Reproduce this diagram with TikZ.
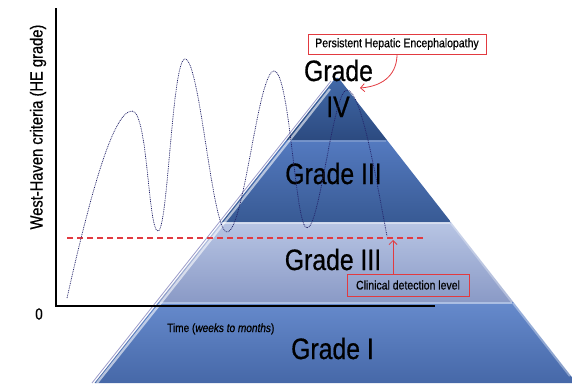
\documentclass[tikz,border=0pt]{standalone}
\usepackage{fontspec}
\setmainfont{Liberation Sans}[FakeStretch=0.84, FakeBold=0.6]
\usetikzlibrary{arrows.meta}
\definecolor{redc}{HTML}{E23A40}
\definecolor{curvec}{HTML}{24246A}
\begin{document}
\begin{tikzpicture}[x=1pt,y=-1pt,
  grade/.style={font=\fontsize{29.5}{30}\selectfont, inner sep=0pt, anchor=base},
  redbox/.style={draw=redc, line width=0.8pt, inner sep=0pt, font=\fontsize{12.5}{13}\selectfont},
  redarrow/.style={draw=redc, line width=0.8pt, -{Straight Barb[length=4pt,width=8pt]}},
  hecurve/.style={draw=curvec, line width=0.75pt, dash pattern=on 0.9pt off 0.9pt},
  axis/.style={line width=1.8pt, black},
  bevel/.style={white, opacity=0.6, line width=2.2pt}]
\useasboundingbox (0,0) rectangle (572,383);
\begin{scope}
\clip (0,0) rectangle (572,383);
% Grade I layer
\shade[top color={rgb,255:red,102;green,138;blue,204}, bottom color={rgb,255:red,70;green,104;blue,168}]
  (94.5,383) -- (158.5,302) -- (513.3,302) -- (576.5,383) -- cycle;
% Grade III light layer
\shade[top color={rgb,255:red,184;green,197;blue,228}, bottom color={rgb,255:red,138;green,154;blue,198}]
  (158.5,302) -- (221.7,222) -- (450.9,222) -- (513.3,302) -- cycle;
% Grade III dark layer
\shade[top color={rgb,255:red,84;green,122;blue,192}, bottom color={rgb,255:red,56;green,90;blue,148}]
  (221.7,222) -- (286.4,140) -- (386.9,140) -- (450.9,222) -- cycle;
% Grade IV layer
\shade[top color={rgb,255:red,66;green,106;blue,170}, bottom color={rgb,255:red,44;green,74;blue,128}]
  (286.4,140) -- (332,82.3) .. controls (337,76) .. (342.1,82.5) -- (386.9,140) -- cycle;
% bevel highlights
\draw[bevel] (97,383) -- (160,304) -- (224,223) -- (289,141) -- (330,89);
\draw[bevel, opacity=0.35] (513,303) -- (570,376);
\draw[bevel, opacity=0.3] (451,223) -- (512,302);
\draw[white, opacity=0.45, line width=1.5pt] (160,303) -- (512,303);
\draw[white, opacity=0.45, line width=1.5pt] (223,223) -- (450,223);
\draw[white, opacity=0.2, line width=1.2pt] (288,141) -- (386,141);
\draw[gray!70!blue, opacity=0.6, line width=0.8pt] (92,383) -- (331,81);
\end{scope}
% axes
\coordinate (ytop) at (56,8);
\coordinate (orig) at (56,306);
\coordinate (xend) at (435,306);
\draw[axis] (ytop) -- (orig) -- (xend);
\node[font=\fontsize{16}{16}\selectfont, inner sep=0pt] (zero) at (39,314) {0};
\node[font=\fontsize{17.5}{18}\selectfont, rotate=90, inner sep=0pt] (ylab) at (38,127) {West-Haven criteria (HE grade)};
\node[font=\fontsize{12}{12}\selectfont, anchor=base west, inner sep=0pt] (tlab) at (167,332) {Time (\textit{weeks to months})};
% grade labels
\node[grade] (g4a) at (338.5,81) {Grade};
\node[grade] (g4b) at (338,117) {IV};
\node[grade] (g3a) at (333.5,184) {Grade III};
\node[grade] (g3b) at (333,270) {Grade III};
\node[grade] (g1) at (332.5,359) {Grade I};
% clinical detection dashed line
\coordinate (dl) at (67,238);
\coordinate (dr) at (423,238);
\draw[redc, line width=1.3pt, dash pattern=on 6pt off 4pt] (dl) -- (dr);
% HE curve
\coordinate (cs) at (67,298);
\coordinate (ce) at (387,236);
\draw[hecurve] (cs) .. controls (88,205) and (112,111) .. (132,111)
  .. controls (148,111) and (148,231) .. (158,231)
  .. controls (168,231) and (172,59) .. (185,59)
  .. controls (200,59) and (212,232) .. (227,232)
  .. controls (244,232) and (258,71) .. (274,71)
  .. controls (290,71) and (295,228) .. (307,228)
  .. controls (320,228) and (333,90) .. (347,90)
  .. controls (362,90) and (378,190) .. (ce);
% boxes and arrows
\node[redbox, minimum width=178pt, minimum height=20pt] (pbox) at (397,44) {Persistent Hepatic Encephalopathy};
\node[redbox, minimum width=122pt, minimum height=22pt] (cbox) at (408,285) {Clinical detection level};
\coordinate (ptip) at (360,88);
\coordinate (ctip) at (393,240);
\draw[redarrow] (pbox.south) .. controls (397,72) and (386,86) .. (ptip);
\draw[redarrow] ([xshift=-15pt]cbox.north) -- (ctip);
\end{tikzpicture}
\end{document}
